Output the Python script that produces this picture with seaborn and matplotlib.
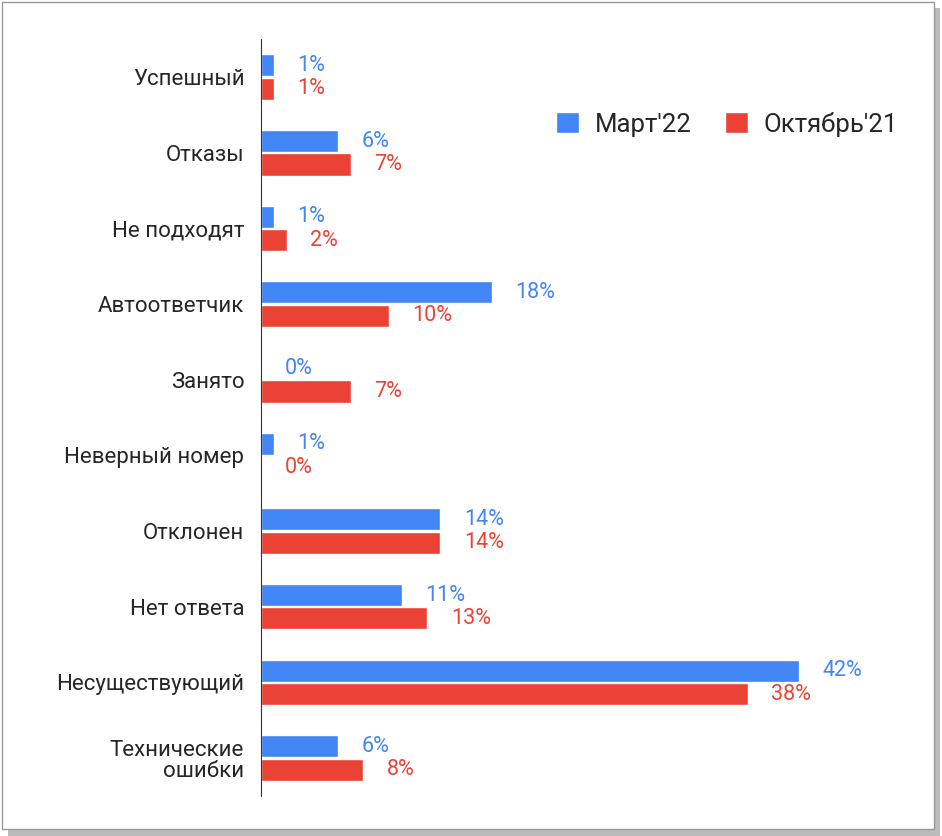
import matplotlib.pyplot as plt
import seaborn as sns
import pandas as pd
from matplotlib.patches import Rectangle

categories = ["Успешный", "Отказы", "Не подходят", "Автоответчик", "Занято",
              "Неверный номер", "Отклонен", "Нет ответа", "Несуществующий",
              "Технические\nошибки"]
march22 = [1, 6, 1, 18, 0, 1, 14, 11, 42, 6]
oct21 = [1, 7, 2, 10, 7, 0, 14, 13, 38, 8]
series = ["Март'22", "Октябрь'21"]
colors = ["#4285F4", "#EA4335"]

df = pd.DataFrame({
    "cat": categories * 2,
    "val": march22 + oct21,
    "series": [series[0]] * len(categories) + [series[1]] * len(categories),
})

sns.set_style("white")
plt.rcParams["font.family"] = ["Roboto", "DejaVu Sans"]

fig = plt.figure(figsize=(9.42, 8.36), dpi=100)
# frame with shadow
fig.patches.append(Rectangle((0.008, 0.0), 0.99, 0.99, transform=fig.transFigure,
                             facecolor="#bbbbbb", edgecolor="none", zorder=-2))
fig.patches.append(Rectangle((0.002, 0.008), 0.99, 0.99, transform=fig.transFigure,
                             facecolor="white", edgecolor="#999999", lw=1, zorder=-1))

ax = fig.add_axes([0.277, 0.048, 0.68, 0.905])
ax.patch.set_alpha(0)
sns.barplot(data=df, x="val", y="cat", hue="series", palette=colors,
            orient="h", width=0.62, gap=0.06, ax=ax, saturation=1)

for cont, col in zip(ax.containers, colors):
    labels = [f"{int(v)}%" for v in cont.datavalues]
    ax.bar_label(cont, labels=labels, padding=17, color=col, fontsize=15.5)

ax.set_xlim(0, 50)
ax.set_xlabel("")
ax.set_ylabel("")
ax.set_xticks([])
ax.tick_params(axis="y", length=0, labelsize=16, pad=12)
for lbl in ax.get_yticklabels():
    lbl.set_linespacing(1.0)
for s in ["top", "right", "bottom"]:
    ax.spines[s].set_visible(False)
ax.spines["left"].set_color("#333333")

ax.legend(loc="upper right", bbox_to_anchor=(1.03, 0.935), ncol=2, frameon=False,
          fontsize=18.5, handlelength=0.9, handleheight=0.9, columnspacing=1.3,
          handletextpad=0.6)

fig.savefig("out.png", dpi=100)
